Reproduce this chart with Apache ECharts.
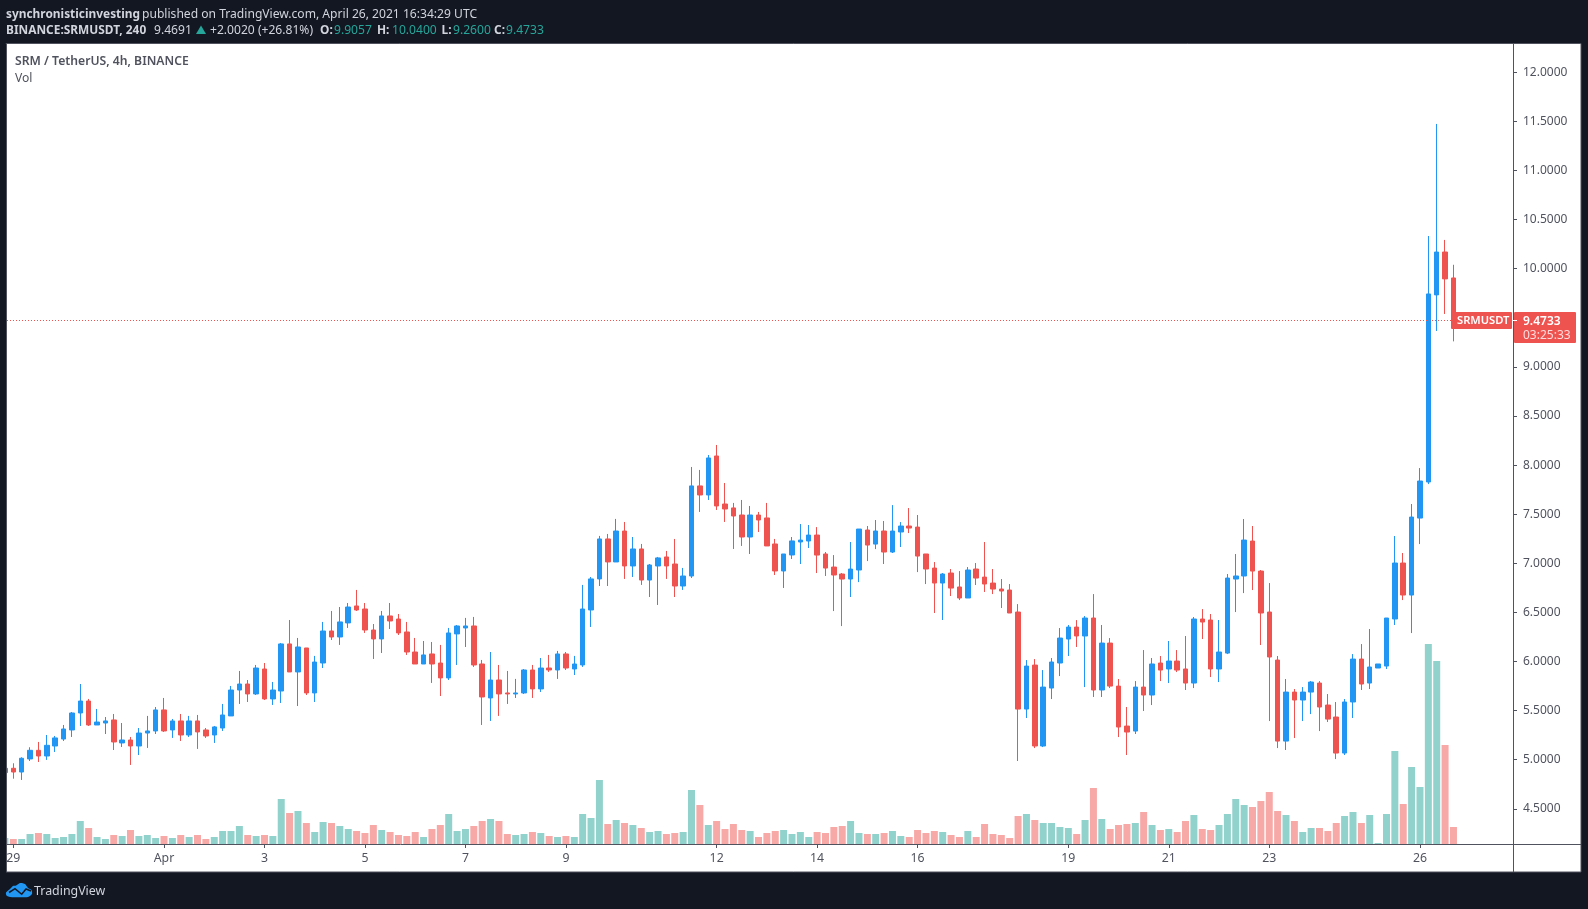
<!DOCTYPE html>
<html><head><meta charset="utf-8">
<style>html,body{margin:0;padding:0;background:#131722}#c{width:1588px;height:909px}</style>
<script src="https://cdn.jsdelivr.net/npm/echarts@6/dist/echarts.min.js"></script>
</head><body><div id="c"></div>
<script>
const firstIndex=-1;
const opens=[4.869,4.913,4.875,5.008,5.096,5.038,5.140,5.211,5.303,5.476,
5.598,5.354,5.374,5.405,5.171,5.201,5.140,5.272,5.293,5.507,
5.303,5.395,5.252,5.395,5.303,5.252,5.323,5.446,5.710,5.771,
5.670,5.924,5.619,5.700,6.179,5.894,6.138,5.680,5.985,6.311,
6.250,6.393,6.566,6.535,6.321,6.230,6.464,6.433,6.301,6.097,
5.975,6.077,5.985,5.833,6.281,6.342,6.362,5.975,5.629,5.812,
5.680,5.670,5.680,5.914,5.721,5.934,5.914,6.077,5.924,5.965,
6.525,6.841,7.248,7.014,7.329,6.973,7.146,6.830,6.973,7.065,
6.993,6.769,6.871,7.788,7.696,8.093,7.604,7.564,7.492,7.268,
7.492,7.462,7.197,6.922,7.085,7.217,7.227,7.288,7.095,6.962,
6.891,6.840,6.932,7.339,7.196,7.329,7.115,7.319,7.380,7.369,
7.095,6.952,6.799,6.901,6.759,6.647,6.942,6.860,6.799,6.738,
6.728,6.504,5.516,5.964,5.140,5.730,5.985,6.229,6.351,6.260,
6.443,5.710,6.188,5.750,5.343,5.292,5.740,5.659,5.985,5.924,
6.005,5.924,5.781,6.433,6.423,5.924,6.086,6.840,6.871,7.227,
6.921,6.504,6.015,5.190,5.689,5.608,5.689,5.781,5.557,5.435,
5.068,5.588,6.025,5.781,5.934,5.954,6.433,7.003,6.677,7.461,
7.828,9.733,10.170,9.9057];
const closes=[4.913,4.875,5.015,5.096,5.038,5.147,5.222,5.313,5.476,5.598,
5.354,5.384,5.395,5.181,5.201,5.140,5.272,5.293,5.507,5.293,
5.395,5.252,5.395,5.283,5.242,5.334,5.456,5.710,5.771,5.670,
5.934,5.619,5.710,6.179,5.894,6.148,5.680,5.995,6.311,6.250,
6.403,6.555,6.525,6.321,6.230,6.464,6.413,6.291,6.097,5.975,
6.067,5.975,5.833,6.291,6.362,6.362,5.965,5.639,5.812,5.670,
5.670,5.680,5.914,5.721,5.934,5.914,6.077,5.934,5.975,6.535,
6.841,7.248,7.014,7.329,6.973,7.146,6.830,6.983,7.055,6.973,
6.769,6.871,7.788,7.696,8.073,7.584,7.553,7.482,7.268,7.492,
7.441,7.177,6.922,7.095,7.228,7.237,7.288,7.084,6.952,6.881,
6.840,6.942,7.349,7.186,7.329,7.115,7.329,7.380,7.359,7.074,
6.942,6.799,6.891,6.748,6.647,6.932,6.850,6.789,6.738,6.718,
6.494,5.516,5.954,5.140,5.740,5.995,6.239,6.351,6.260,6.443,
5.710,6.188,5.750,5.333,5.282,5.740,5.659,5.975,5.913,6.005,
5.913,5.781,6.433,6.402,5.924,6.097,6.850,6.871,7.237,6.921,
6.494,6.046,5.190,5.689,5.608,5.689,5.791,5.537,5.414,5.068,
5.588,6.025,5.771,5.944,5.975,6.443,7.003,6.677,7.471,7.838,
9.743,10.170,9.896,9.4733];
const lows=[4.869,4.807,4.794,4.987,4.977,4.998,5.079,5.191,5.232,5.344,
5.344,5.354,5.262,5.099,5.130,4.947,5.048,5.120,5.262,5.283,
5.222,5.191,5.232,5.110,5.222,5.171,5.293,5.446,5.568,5.588,
5.659,5.608,5.558,5.578,5.894,5.547,5.659,5.588,5.934,6.219,
6.169,6.342,6.515,6.291,6.026,6.087,6.331,6.270,6.067,5.975,
5.975,5.782,5.649,5.812,5.965,6.148,5.945,5.354,5.395,5.446,
5.568,5.629,5.670,5.629,5.690,5.894,5.823,5.914,5.863,5.945,
6.352,6.769,6.769,7.014,6.841,6.861,6.780,6.657,6.576,6.841,
6.657,6.729,6.851,7.523,7.645,7.543,7.421,7.146,7.177,7.095,
7.319,7.177,6.881,6.749,7.044,6.993,7.156,6.901,6.871,6.514,
6.361,6.657,6.809,7.023,7.145,6.993,7.105,7.166,7.308,6.911,
6.789,6.494,6.423,6.667,6.626,6.647,6.779,6.708,6.687,6.545,
6.494,4.987,5.425,5.119,5.129,5.618,5.852,6.056,6.148,5.740,
5.639,5.639,5.730,5.231,5.048,5.262,5.496,5.557,5.801,5.781,
5.893,5.710,5.730,6.229,5.842,5.791,6.076,6.504,6.697,6.728,
6.168,5.394,5.119,5.099,5.221,5.394,5.465,5.292,5.384,5.007,
5.048,5.425,5.710,5.720,5.934,5.924,6.372,6.626,6.290,7.196,
7.807,9.366,9.539,9.26];
const highs=[4.913,4.964,5.025,5.127,5.181,5.252,5.242,5.354,5.486,5.771,
5.619,5.517,5.435,5.466,5.374,5.232,5.323,5.446,5.537,5.629,
5.415,5.466,5.446,5.456,5.323,5.344,5.568,5.751,5.904,5.812,
5.965,5.985,5.792,6.189,6.423,6.240,6.138,6.057,6.403,6.515,
6.555,6.596,6.729,6.596,6.382,6.515,6.596,6.484,6.403,6.240,
6.209,6.199,6.169,6.342,6.372,6.444,6.454,6.016,6.097,5.965,
5.904,5.823,5.924,5.965,6.036,6.067,6.108,6.097,6.057,6.780,
6.861,7.279,7.299,7.452,7.421,7.268,7.197,6.993,7.065,7.126,
7.248,6.953,7.981,7.951,8.103,8.205,7.818,7.615,7.645,7.584,
7.523,7.615,7.248,7.095,7.268,7.400,7.390,7.369,7.115,7.084,
6.901,7.217,7.349,7.380,7.441,7.431,7.593,7.420,7.563,7.492,
7.095,7.013,6.901,6.942,6.921,6.962,7.003,7.217,6.942,6.840,
6.789,6.585,6.015,6.025,5.913,6.036,6.341,6.372,6.422,6.463,
6.687,6.372,6.239,5.822,5.537,5.801,6.117,6.036,6.056,6.209,
6.117,6.260,6.453,6.534,6.484,6.423,6.891,7.095,7.451,7.380,
6.932,6.799,6.056,5.822,5.720,5.740,5.801,5.801,5.669,5.588,
5.618,6.076,6.178,6.331,5.975,6.443,7.278,7.105,7.604,7.970,
10.333,11.474,10.293,10.04];
const volumes=[18,15,15,30,33,30,18,21,30,69,
48,21,15,27,24,42,24,27,18,24,
18,27,21,27,15,21,39,39,54,27,
24,27,24,135,93,99,63,36,66,63,
54,45,39,33,57,42,36,27,24,36,
21,45,57,90,39,45,54,69,75,69,
30,27,30,36,33,24,21,24,21,90,
78,192,60,72,63,57,48,36,39,30,
33,36,162,117,57,69,45,60,42,39,
21,33,39,42,30,36,21,36,33,51,
54,69,33,30,30,33,39,24,21,42,
33,39,36,27,21,39,21,60,30,27,
18,84,90,72,63,63,51,48,30,72,
168,75,45,57,60,63,96,57,42,45,
36,69,87,45,42,57,90,135,117,111,
129,156,99,87,69,36,48,48,39,63,
84,96,63,87,3,90,279,120,231,171,
600,549,297,51];
const timeTickIndexes=[0,18,30,42,54,66,84,96,108,126,138,150,168];
const timeTickLabels=['29','Apr','3','5','7','9','12','14','16','19','21','23','26'];
const priceTicks=[4.5,5,5.5,6,6.5,7,7.5,8,8.5,9,9.5,10,10.5,11,11.5,12];
const lastPrice=9.4733;

const FONT='"Noto Sans", sans-serif';
const UP='#2196f3',DOWN='#ef5350',VOL_UP='#92d2cc',VOL_DOWN='#f7a9a7',AX='#50535e',LIGHT='#d1d4dc',TEAL='#26a69a',DARK='#131722';
const L=7,R=1513,T=44,B=844,PANEL_B=872,PANEL_R=1581;
const xMin=-0.752,xMax=179.11,yMin=4.142,yMax=12.288;

const candleData=opens.map((o,i)=>[i+firstIndex,o,closes[i],lows[i],highs[i]]);
const volumeData=volumes.map((v,i)=>({value:[i+firstIndex,v],itemStyle:{color:closes[i]>=opens[i]?VOL_UP:VOL_DOWN}}));

function txt(x,y,text,fill,opt){return Object.assign({type:'text',x,y,silent:true,z:50,
  style:Object.assign({text,fill,font:'12.1px '+FONT,textVerticalAlign:'middle',textBaseline:'middle'},opt||{})});}
const BOLD='bold 11.9px '+FONT;
const Y1=14.5,Y2=30.6;

const chart=echarts.init(document.getElementById('c'),null,{renderer:'canvas'});
const graphics=[
 {type:'rect',shape:{x:6,y:43.5,width:PANEL_R-6,height:PANEL_B-43.5},style:{fill:'#fff',stroke:AX,lineWidth:1},z:-10,silent:true},
 {type:'rect',shape:{x:0,y:44,width:6,height:PANEL_B-44},style:{fill:DARK},z:30,silent:true},
 {type:'line',shape:{x1:6.5,y1:44,x2:6.5,y2:PANEL_B},style:{stroke:AX,lineWidth:1},z:31,silent:true},
 {type:'line',shape:{x1:R+.5,y1:44,x2:R+.5,y2:PANEL_B},style:{stroke:AX,lineWidth:1},z:40,silent:true},
 {type:'line',shape:{x1:L,y1:B+.5,x2:PANEL_R,y2:B+.5},style:{stroke:AX,lineWidth:1},z:40,silent:true},
 txt(6,Y1,'synchronisticinvesting',LIGHT,{font:BOLD}),
 txt(142,Y1,'published on TradingView.com, April 26, 2021 16:34:29 UTC',LIGHT),
 txt(6,Y2,'BINANCE:SRMUSDT, 240',LIGHT,{font:BOLD}),
 txt(154,Y2,'9.4691',LIGHT),
 {type:'polygon',shape:{points:[[196,34],[206,34],[201,25.5]]},style:{fill:TEAL},z:50,silent:true},
 txt(210,Y2,'+2.0020 (+26.81%)',LIGHT),
 txt(320,Y2,'O:',LIGHT,{font:BOLD}),txt(334,Y2,'9.9057',TEAL),
 txt(377,Y2,'H:',LIGHT,{font:BOLD}),txt(392,Y2,'10.0400',TEAL),
 txt(441.5,Y2,'L:',LIGHT,{font:BOLD}),txt(453,Y2,'9.2600',TEAL),
 txt(494,Y2,'C:',LIGHT,{font:BOLD}),txt(506,Y2,'9.4733',TEAL),
 txt(15,61.7,'SRM / TetherUS, 4h, BINANCE',AX,{font:'600 12.2px '+FONT}),
 txt(15,78.7,'Vol',AX),
 {type:'polygon',shape:{smooth:0.25,points:[[10,897],[6.5,895.5],[6,892.5],[10,889],[13,886],[16,885.5],[20,883],[25,884],[28,888],[31.5,890],[32,894],[28,897]]},style:{fill:UP},z:50,silent:true},
 {type:'polyline',shape:{points:[[9,892.5],[15,888.7],[21.7,894.3],[26,889],[31,891]]},style:{stroke:DARK,fill:'none',lineWidth:1.5},z:51,silent:true},
 txt(34,891,'TradingView',LIGHT,{font:'12.4px '+FONT})
];
chart.setOption({
 animation:false,backgroundColor:DARK,
 grid:[{left:L,top:T,width:R-L,height:B-T},{left:L,top:B-200.33,width:R-L,height:200.33}],
 xAxis:[
  {type:'value',gridIndex:0,min:xMin,max:xMax,splitLine:{show:false},axisLine:{show:false,onZero:false},
   axisTick:{show:true,length:4,lineStyle:{color:AX},customValues:timeTickIndexes},
   axisLabel:{color:AX,fontSize:12.3,fontFamily:FONT,margin:8,showMinLabel:true,showMaxLabel:true,hideOverlap:false,customValues:timeTickIndexes,
     formatter:v=>timeTickLabels[timeTickIndexes.indexOf(v)]||''}},
  {type:'value',gridIndex:1,min:xMin,max:xMax,show:false}
 ],
 yAxis:[
  {type:'value',gridIndex:0,position:'right',min:yMin,max:yMax,splitLine:{show:false},axisLine:{show:false,onZero:false},
   axisTick:{show:true,length:4,lineStyle:{color:AX},customValues:priceTicks},
   axisLabel:{color:AX,fontSize:12,fontFamily:FONT,margin:10,align:'left',padding:[4,0,0,0],customValues:priceTicks,formatter:v=>v.toFixed(4)}},
  {type:'value',gridIndex:1,min:0,max:601,show:false}
 ],
 series:[
  {name:'Vol',type:'bar',xAxisIndex:1,yAxisIndex:1,barWidth:7,data:volumeData,z:2,silent:true,clip:true,itemStyle:{borderWidth:0}},
  {name:'SRMUSDT',type:'candlestick',xAxisIndex:0,yAxisIndex:0,barWidth:5,z:3,silent:true,clip:true,
   encode:{x:0,y:[1,2,3,4]},data:candleData,
   itemStyle:{color:UP,color0:DOWN,borderColor:UP,borderColor0:DOWN,borderWidth:1},
   markLine:{silent:true,symbol:'none',label:{show:false},animation:false,
     lineStyle:{color:DOWN,type:[1,2],width:1},data:[{yAxis:lastPrice}]}}
 ],
 graphic:{elements:graphics}
});
const py=Math.round(chart.convertToPixel({yAxisIndex:0},lastPrice));
chart.setOption({graphic:{elements:graphics.concat([
 {type:'rect',shape:{x:1451,y:py-8,width:61,height:17,r:1},style:{fill:DOWN},z:45,silent:true},
 {type:'rect',shape:{x:R+1,y:py-8,width:62,height:31,r:1},style:{fill:DOWN},z:45,silent:true},
 txt(1457,py+1,'SRMUSDT','#fff',{font:'600 11.2px '+FONT}),
 txt(1523,py+1.5,lastPrice.toFixed(4),'#fff',{font:'600 12px '+FONT}),
 txt(1523,py+15.5,'03:25:33','rgba(255,255,255,0.8)',{font:'12px '+FONT}),
 {type:'line',shape:{x1:R,y1:py+.5,x2:R+4,y2:py+.5},style:{stroke:'#fff',lineWidth:1},z:46,silent:true}
])}});
</script></body></html>
